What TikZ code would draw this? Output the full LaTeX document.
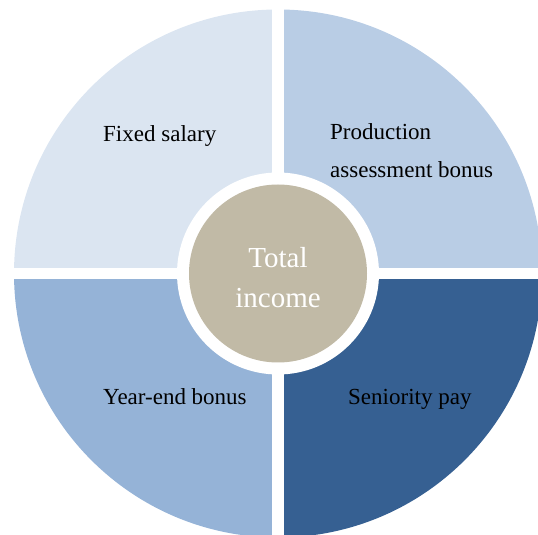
\documentclass[tikz,border=0pt]{standalone}
\usepackage{fontspec}
\setmainfont{Liberation Serif}
\definecolor{fixedblue}{HTML}{DBE5F1}
\definecolor{prodblue}{HTML}{B9CDE5}
\definecolor{yearblue}{HTML}{95B3D7}
\definecolor{seniorblue}{HTML}{366092}
\definecolor{coretan}{HTML}{C1BAA6}
\begin{document}
\begin{tikzpicture}[x=1pt, y=1pt,
    part label/.style={anchor=base west, inner sep=0pt, align=left, font=\fontsize{23}{38}\selectfont},
    core node/.style={circle, fill=coretan, minimum size=178pt, inner sep=0pt, text=white, align=center, font=\fontsize{29}{40}\selectfont}]

    \clip (0,0) rectangle (538,535);
    \coordinate (O) at (278,261.5);

    % Quadrants
    \fill[fixedblue]  (O) -- ++(-264,0) arc[start angle=180, end angle=90, radius=264] -- cycle;
    \fill[prodblue]   (O) -- ++(264,0) arc[start angle=0, end angle=90, radius=264] -- cycle;
    \fill[yearblue]   (O) -- ++(-264,0) arc[start angle=180, end angle=270, radius=264] -- cycle;
    \fill[seniorblue] (O) -- ++(264,0) arc[start angle=0, end angle=-90, radius=264] -- cycle;

    % White gaps
    \draw[white, line width=12pt] (278,0) -- (278,535);
    \draw[white, line width=11pt] (0,261.5) -- (538,261.5);
    \fill[white] (O) circle (101);

    % Centre
    \node[core node] (total) at (O) {\strut Total\\income};

    % Labels
    \node[part label] (fixed) at (103,393) {Fixed salary};
    \node[part label] (prod) at (330,357) {Production\\assessment bonus};
    \node[part label] (year) at (103,130) {Year-end bonus};
    \node[part label] (senior) at (348,130) {Seniority pay};

\end{tikzpicture}
\end{document}
